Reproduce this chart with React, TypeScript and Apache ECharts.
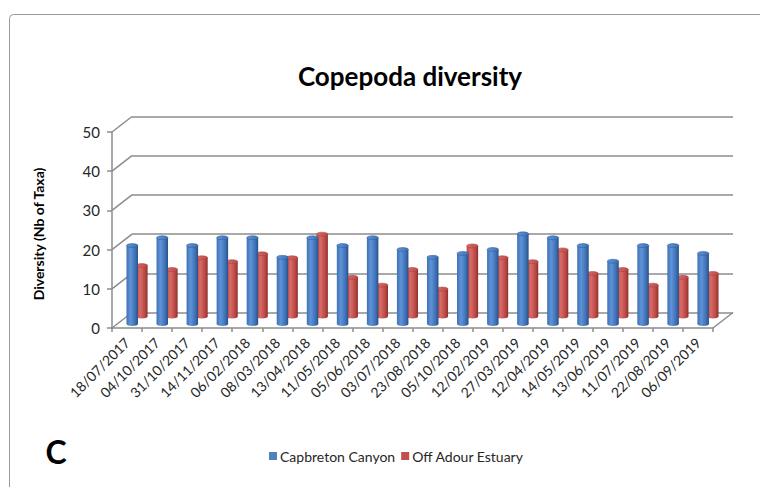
import React, { useEffect, useRef } from "react";
import * as echarts from "echarts";

const categories = [
  "18/07/2017", "04/10/2017", "31/10/2017", "14/11/2017", "06/02/2018",
  "08/03/2018", "13/04/2018", "11/05/2018", "05/06/2018", "03/07/2018",
  "23/08/2018", "05/10/2018", "12/02/2019", "27/03/2019", "12/04/2019",
  "14/05/2019", "13/06/2019", "11/07/2019", "22/08/2019", "06/09/2019",
];
const capbreton = [20, 22, 20, 22, 22, 17, 22, 20, 22, 19, 17, 18, 19, 23, 22, 20, 16, 20, 20, 18];
const adour = [13, 12, 15, 14, 16, 15, 21, 10, 8, 12, 7, 18, 15, 14, 17, 11, 12, 8, 10, 11];
const yTicks = [0, 10, 20, 30, 40, 50];
const seriesNames = ["Capbreton Canyon", "Off Adour Estuary"];

const FONT = "Lato, 'Open Sans', sans-serif";
const GRID_LEFT = 112;
const GRID_TOP = 132;
const GRID_W = 601;
const GRID_H = 196;
const DX = 20;
const DY = -15.5;
const GRID_COLOR = "#8c8c8c";

function cylinder(depth: number, dark: string, mid: string, light: string, edge: string) {
  return (params: any, api: any) => {
    const i = api.value(0);
    const v = api.value(1);
    const base = api.coord([i, 0]);
    const top = api.coord([i, v]);
    const cx = base[0] + DX * depth;
    const by = base[1] + DY * depth;
    const ty = top[1] + DY * depth;
    const w = 11.5;
    const rx = w / 2;
    const ry = 2;
    const body = new echarts.graphic.LinearGradient(0, 0, 1, 0, [
      { offset: 0, color: mid },
      { offset: 0.35, color: light },
      { offset: 0.75, color: mid },
      { offset: 1, color: dark },
    ]);
    const cap = new echarts.graphic.LinearGradient(0, 0, 1, 0, [
      { offset: 0, color: light },
      { offset: 1, color: mid },
    ]);
    return {
      type: "group",
      children: [
        { type: "ellipse", shape: { cx, cy: by, rx, ry }, style: { fill: body } },
        { type: "rect", shape: { x: cx - rx, y: ty, width: w, height: Math.max(0, by - ty) }, style: { fill: body } },
        { type: "ellipse", shape: { cx, cy: ty, rx, ry }, style: { fill: cap, stroke: edge, lineWidth: 0.5 } },
      ],
    };
  };
}

export default function App() {
  const ref = useRef<HTMLDivElement>(null);
  useEffect(() => {
    if (!ref.current) return;
    const chart = echarts.init(ref.current, null, { renderer: "svg" });
    const option: any = {
      animation: false,
      backgroundColor: "#ffffff",
      grid: [
        { left: GRID_LEFT, top: GRID_TOP, width: GRID_W, height: GRID_H },
        { left: GRID_LEFT + DX, top: GRID_TOP + DY, width: GRID_W, height: GRID_H },
      ],
      xAxis: [
        {
          type: "category",
          gridIndex: 0,
          data: categories,
          axisLine: { show: true, lineStyle: { color: GRID_COLOR, width: 1.5 } },
          axisTick: { show: true, length: 4, lineStyle: { color: GRID_COLOR, width: 1.5 } },
          axisLabel: { rotate: 45, fontSize: 14, color: "#262626", fontFamily: FONT, margin: 12, interval: 0 },
          splitLine: { show: false },
        },
        { type: "category", gridIndex: 1, data: categories, show: false },
      ],
      yAxis: [
        {
          type: "value",
          gridIndex: 0,
          min: 0,
          max: 50,
          interval: 10,
          axisLine: { show: true, lineStyle: { color: GRID_COLOR, width: 1.5 } },
          axisTick: { show: true, length: 5, lineStyle: { color: GRID_COLOR, width: 1.5 } },
          axisLabel: { fontSize: 15, color: "#262626", fontFamily: FONT, margin: 12 },
          splitLine: { show: false },
        },
        {
          type: "value",
          gridIndex: 1,
          min: 0,
          max: 50,
          interval: 10,
          axisLine: { show: false },
          axisTick: { show: false },
          axisLabel: { show: false },
          splitLine: { show: true, lineStyle: { color: GRID_COLOR, width: 1.5 } },
        },
      ],
      legend: {
        data: seriesNames,
        left: 264,
        top: 444,
        icon: "rect",
        itemWidth: 8,
        itemHeight: 8,
        itemGap: 6,
        textStyle: { fontSize: 14, color: "#262626", fontFamily: FONT, padding: [0, 0, 0, -2] },
      },
      graphic: [
        {
          type: "rect",
          shape: { x: 9.5, y: 14.5, width: 820, height: 520, r: 4 },
          style: { fill: "none", stroke: "#9a9a9a", lineWidth: 1 },
          silent: true,
        },
        {
          type: "text",
          x: 410,
          y: 76,
          style: {
            text: "Copepoda diversity",
            fontSize: 26,
            fontWeight: "bold",
            fontFamily: FONT,
            fill: "#000",
            textAlign: "center",
            textVerticalAlign: "middle",
          },
        },
        {
          type: "text",
          x: 38,
          y: 234,
          rotation: Math.PI / 2,
          style: {
            text: "Diversity (Nb of Taxa)",
            fontSize: 14,
            fontWeight: "bold",
            fontFamily: FONT,
            fill: "#000",
            textAlign: "center",
            textVerticalAlign: "middle",
          },
        },
        {
          type: "text",
          x: 56,
          y: 451,
          style: {
            text: "C",
            fontSize: 32,
            fontWeight: "bold",
            fontFamily: FONT,
            fill: "#000",
            textAlign: "center",
            textVerticalAlign: "middle",
          },
        },
      ],
      series: [
        {
          name: "frame",
          type: "custom",
          xAxisIndex: 0,
          yAxisIndex: 0,
          z: 1,
          silent: true,
          data: yTicks.map((v) => [0, v]),
          renderItem: (params: any, api: any) => {
            const v = api.value(1);
            const cs = params.coordSys;
            const y = api.coord([0, v])[1];
            const children: any[] = [
              {
                type: "line",
                shape: { x1: cs.x, y1: y, x2: cs.x + DX, y2: y + DY },
                style: { stroke: GRID_COLOR, lineWidth: 1.5 },
              },
            ];
            if (v === 0) {
              children.push({
                type: "line",
                shape: { x1: cs.x + cs.width, y1: y, x2: cs.x + cs.width + DX, y2: y + DY },
                style: { stroke: GRID_COLOR, lineWidth: 1.5 },
              });
            }
            return { type: "group", children };
          },
        },
        {
          name: seriesNames[1],
          type: "custom",
          xAxisIndex: 0,
          yAxisIndex: 0,
          z: 2,
          itemStyle: { color: "#C0504D" },
          data: adour.map((v, i) => [i, v]),
          renderItem: cylinder(0.74, "#8e2f2c", "#bb4a47", "#d96a66", "#a03c39"),
        },
        {
          name: seriesNames[0],
          type: "custom",
          xAxisIndex: 0,
          yAxisIndex: 0,
          z: 3,
          itemStyle: { color: "#4F81BD" },
          data: capbreton.map((v, i) => [i, v]),
          renderItem: cylinder(0.26, "#28508a", "#3f71b4", "#5f93d8", "#2d5a96"),
        },
      ],
    };
    chart.setOption(option);
    return () => chart.dispose();
  }, []);
  return (
    <div
      ref={ref}
      style={{ position: "fixed", left: 0, top: 0, width: 760, height: 487, background: "#fff" }}
    />
  );
}
